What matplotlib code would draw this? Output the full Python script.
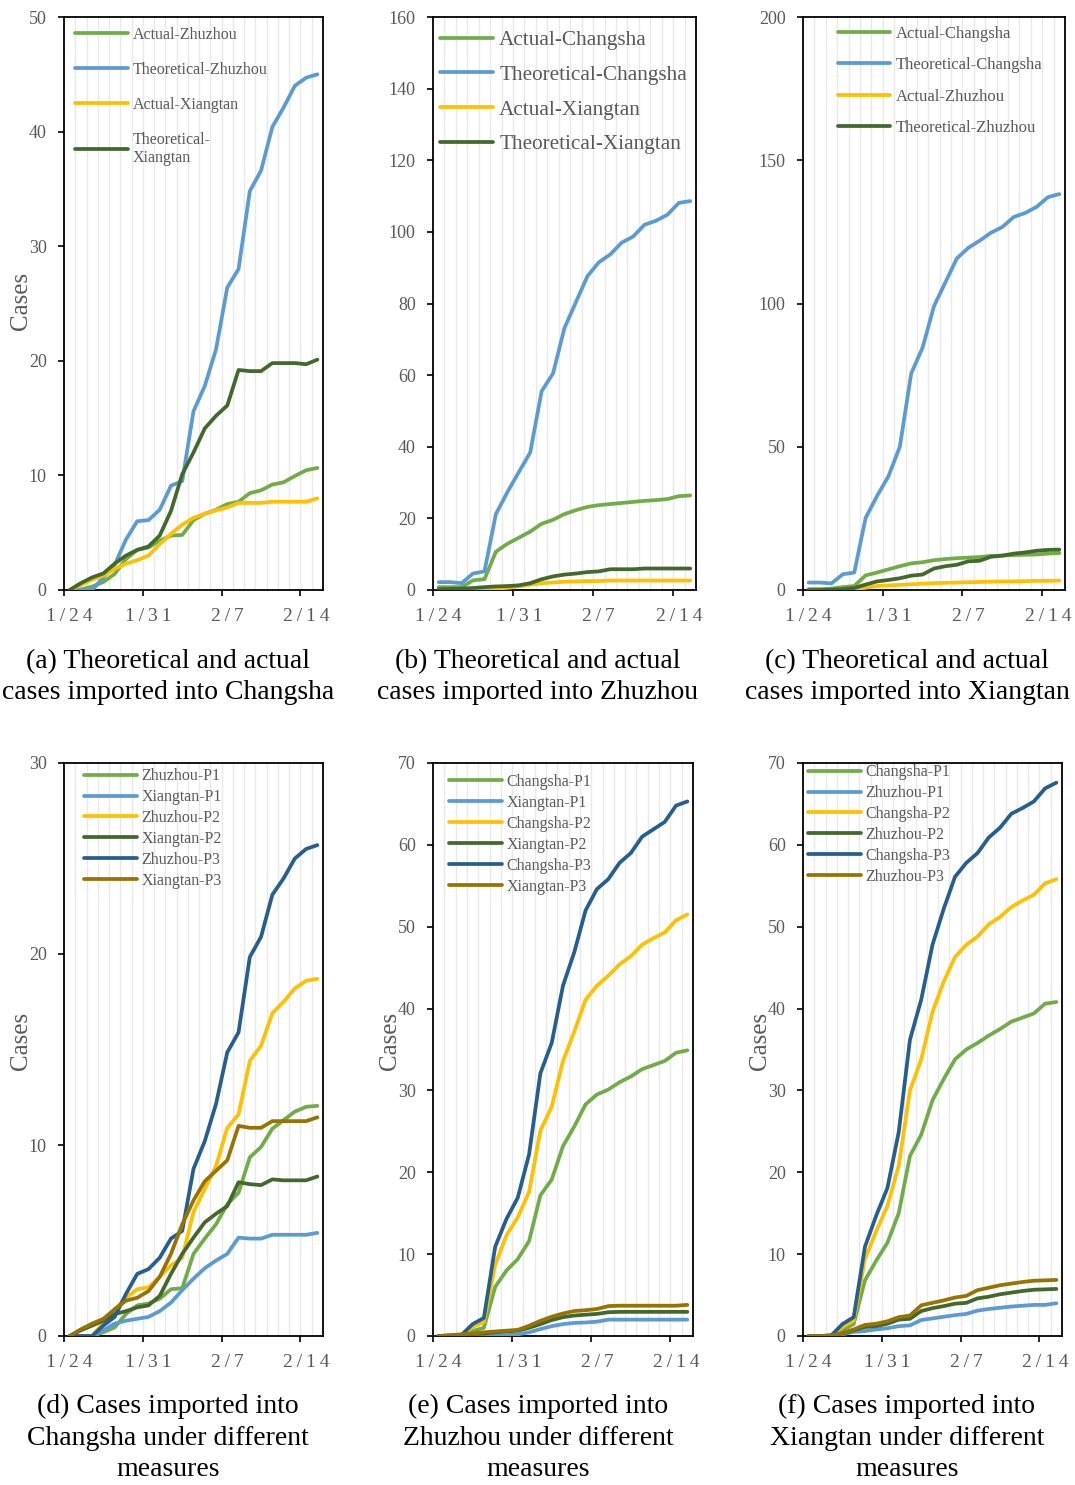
import numpy as np
import pandas as pd
import matplotlib
matplotlib.use('Agg')
import matplotlib.pyplot as plt

plt.rcParams['font.family'] = ['Liberation Serif', 'DejaVu Serif']

W, H = 1075, 1485

# 23 days, 1/24 .. 2/15
days = pd.date_range('2020-01-24', '2020-02-15')
day_labels = [f'{d.month}/{d.day}' for d in days]
tick_labels = ['1/24', '1/31', '2/7', '2/14']

GREEN = '#70AD47'
BLUE = '#5B9BD5'
YELLOW = '#FFC000'
DKGREEN = '#43682B'
DKBLUE = '#255E91'
OLIVE = '#997300'
GREY = '#595959'

# (a) imported into Changsha
a_actual_zz = [0, 0.05, 0.3, 0.7, 1.4, 2.7, 3.5, 3.7, 4.3, 4.75, 4.8, 6.1, 6.65, 7.0, 7.5, 7.7, 8.45, 8.7, 9.2, 9.4, 9.95, 10.45, 10.65]
a_theo_zz = [0, 0, 0, 1.1, 2.2, 4.4, 6.0, 6.1, 7.0, 9.1, 9.5, 15.6, 17.8, 21.0, 26.4, 28.0, 34.8, 36.6, 40.4, 42.1, 44.0, 44.7, 45.0]
a_actual_xt = [0, 0.45, 0.9, 1.25, 1.85, 2.3, 2.6, 3.0, 4.0, 4.9, 5.7, 6.3, 6.65, 6.95, 7.2, 7.6, 7.6, 7.6, 7.7, 7.7, 7.7, 7.7, 8.0]
a_theo_xt = [0, 0.6, 1.1, 1.45, 2.3, 3.0, 3.5, 3.8, 4.75, 6.9, 10.1, 12.0, 14.1, 15.2, 16.1, 19.2, 19.1, 19.1, 19.8, 19.8, 19.8, 19.7, 20.1]

# (b) imported into Zhuzhou
b_actual_cs = [0.8, 0.8, 0.8, 2.7, 3.0, 10.7, 12.9, 14.6, 16.3, 18.5, 19.6, 21.2, 22.3, 23.2, 23.7, 24.0, 24.3, 24.6, 24.9, 25.1, 25.4, 26.2, 26.4]
b_theo_cs = [2.2, 2.2, 1.9, 4.6, 5.2, 21.2, 27.3, 32.9, 38.4, 55.5, 60.5, 73.2, 80.4, 87.6, 91.5, 93.7, 97.0, 98.7, 102.0, 103.1, 104.8, 108.1, 108.6]
b_actual_xt = [0, 0, 0, 0.1, 0.2, 0.4, 0.6, 1.0, 1.5, 1.9, 2.1, 2.3, 2.4, 2.5, 2.5, 2.65, 2.65, 2.65, 2.65, 2.65, 2.65, 2.65, 2.65]
b_theo_xt = [0.2, 0.3, 0.4, 0.55, 0.8, 1.0, 1.1, 1.3, 1.9, 3.0, 3.8, 4.3, 4.6, 5.0, 5.2, 5.8, 5.8, 5.8, 6.0, 6.0, 6.0, 6.0, 6.0]

# (c) imported into Xiangtan
c_actual_cs = [0.3, 0.3, 0.5, 1.0, 1.4, 5.1, 6.1, 7.2, 8.3, 9.3, 9.7, 10.4, 10.8, 11.1, 11.3, 11.5, 11.9, 12.0, 12.2, 12.3, 12.4, 12.7, 12.9]
c_theo_cs = [2.6, 2.6, 2.3, 5.5, 6.1, 25.2, 32.8, 39.7, 50.0, 75.6, 84.6, 99.1, 107.4, 115.7, 119.4, 121.9, 124.7, 126.7, 130.2, 131.6, 133.7, 137.1, 138.2]
c_actual_zz = [0, 0, 0, 0, 0.2, 0.8, 1.4, 1.6, 1.8, 2.0, 2.2, 2.4, 2.5, 2.6, 2.7, 2.8, 2.9, 3.0, 3.0, 3.1, 3.2, 3.2, 3.3]
c_theo_zz = [0, 0, 0.1, 0.3, 0.7, 1.9, 3.0, 3.5, 4.1, 5.0, 5.4, 7.5, 8.3, 8.8, 10.0, 10.2, 11.6, 12.0, 12.7, 13.1, 13.7, 14.0, 14.1]

# (d) Changsha under different measures
d_zz_p1 = [0, 0, 0, 0.2, 0.45, 1.15, 1.6, 1.7, 1.95, 2.45, 2.5, 4.3, 5.1, 5.85, 6.9, 7.5, 9.35, 9.9, 10.85, 11.3, 11.75, 12.0, 12.05]
d_xt_p1 = [0, 0, 0, 0.3, 0.65, 0.8, 0.9, 1.0, 1.3, 1.75, 2.4, 3.0, 3.55, 3.95, 4.3, 5.15, 5.1, 5.1, 5.3, 5.3, 5.3, 5.3, 5.4]
d_zz_p2 = [0, 0, 0, 0.7, 1.4, 2.0, 2.45, 2.55, 3.1, 3.7, 4.1, 6.5, 7.7, 8.9, 10.9, 11.6, 14.4, 15.2, 16.9, 17.5, 18.2, 18.6, 18.7]
d_xt_p2 = [0, 0.3, 0.55, 0.8, 1.15, 1.3, 1.5, 1.6, 2.1, 3.25, 4.3, 5.15, 5.95, 6.4, 6.8, 8.05, 7.95, 7.9, 8.2, 8.15, 8.15, 8.15, 8.35]
d_zz_p3 = [0, 0, 0, 0.55, 1.0, 2.2, 3.25, 3.5, 4.1, 5.1, 5.5, 8.75, 10.2, 12.15, 14.85, 15.9, 19.84, 20.9, 23.1, 23.96, 25.0, 25.5, 25.7]
d_xt_p3 = [0, 0.35, 0.65, 0.9, 1.4, 1.85, 2.0, 2.35, 3.1, 4.3, 5.85, 7.1, 8.1, 8.65, 9.2, 11.0, 10.9, 10.9, 11.25, 11.25, 11.25, 11.25, 11.45]

# (e) Zhuzhou under different measures
e_cs_p1 = [0, 0, 0.1, 0.6, 1.0, 6.0, 8.0, 9.4, 11.6, 17.2, 19.1, 23.2, 25.6, 28.3, 29.5, 30.1, 31.0, 31.7, 32.6, 33.1, 33.6, 34.6, 34.9]
e_xt_p1 = [0, 0.05, 0.05, 0.05, 0.05, 0.05, 0.1, 0.2, 0.45, 0.85, 1.2, 1.45, 1.6, 1.65, 1.75, 2.0, 2.0, 2.0, 2.0, 2.0, 2.0, 2.0, 2.0]
e_cs_p2 = [0, 0, 0.1, 1.1, 1.7, 8.7, 12.3, 14.5, 17.6, 25.1, 28.0, 33.6, 37.2, 41.1, 42.8, 44.0, 45.4, 46.4, 47.8, 48.6, 49.3, 50.8, 51.5]
e_xt_p2 = [0, 0.05, 0.1, 0.25, 0.3, 0.45, 0.55, 0.65, 1.0, 1.45, 1.95, 2.3, 2.5, 2.6, 2.7, 2.9, 2.95, 2.95, 2.95, 2.95, 2.95, 2.95, 2.95]
e_cs_p3 = [0, 0, 0.1, 1.45, 2.2, 10.9, 14.3, 16.9, 22.2, 32.1, 35.8, 42.8, 46.9, 52.0, 54.6, 55.8, 57.8, 59.0, 61.0, 61.9, 62.8, 64.8, 65.3]
e_xt_p3 = [0, 0.1, 0.2, 0.3, 0.45, 0.55, 0.65, 0.75, 1.25, 1.85, 2.35, 2.75, 3.05, 3.15, 3.3, 3.65, 3.7, 3.7, 3.7, 3.7, 3.7, 3.7, 3.8]

# (f) Xiangtan under different measures
f_cs_p1 = [0, 0, 0.05, 0.7, 1.45, 6.8, 9.2, 11.4, 15.0, 22.0, 24.6, 28.8, 31.4, 33.8, 35.0, 35.8, 36.7, 37.5, 38.4, 38.9, 39.4, 40.6, 40.8]
f_zz_p1 = [0, 0, 0.02, 0.2, 0.5, 0.6, 0.8, 0.95, 1.2, 1.3, 1.95, 2.15, 2.35, 2.55, 2.7, 3.1, 3.3, 3.45, 3.6, 3.7, 3.8, 3.8, 4.0]
f_cs_p2 = [0, 0, 0.05, 1.1, 1.9, 9.4, 12.8, 15.9, 20.8, 30.0, 33.8, 39.6, 43.3, 46.3, 47.8, 48.8, 50.3, 51.2, 52.4, 53.2, 53.9, 55.3, 55.8]
f_zz_p2 = [0, 0, 0.05, 0.3, 0.7, 1.1, 1.2, 1.5, 2.0, 2.1, 3.05, 3.4, 3.65, 3.95, 4.05, 4.6, 4.8, 5.1, 5.3, 5.5, 5.65, 5.7, 5.75]
f_cs_p3 = [0, 0, 0.05, 1.45, 2.3, 10.9, 14.7, 18.1, 24.9, 36.2, 41.1, 47.8, 52.2, 56.1, 57.8, 59.0, 60.9, 62.1, 63.8, 64.5, 65.3, 66.9, 67.6]
f_zz_p3 = [0, 0, 0.05, 0.35, 0.8, 1.35, 1.5, 1.8, 2.3, 2.5, 3.75, 4.05, 4.35, 4.7, 4.9, 5.6, 5.9, 6.2, 6.4, 6.6, 6.75, 6.8, 6.85]

captions = [
    '(a) Theoretical and actual\ncases imported into Changsha',
    '(b) Theoretical and actual\ncases imported into Zhuzhou',
    '(c) Theoretical and actual\ncases imported into Xiangtan',
    '(d) Cases imported into\nChangsha under different\nmeasures',
    '(e) Cases imported into\nZhuzhou under different\nmeasures',
    '(f) Cases imported into\nXiangtan under different\nmeasures',
]


def px_rect(l, t, r, b):
    return [l / W, 1 - b / H, (r - l) / W, (b - t) / H]


def spaced(s):
    # the source renders dates with wide letter spacing
    return '\u2009'.join(s)


def draw_panel(ax, series, labels, colors, ymax, ystep, leg):
    x = np.arange(len(day_labels))
    for xb in np.arange(0.5, len(x) - 1, 1):
        ax.axvline(xb, color='#E9E9E9', lw=1.0, zorder=0)
    for ys, lab, col in zip(series, labels, colors):
        ax.plot(x, ys, color=col, lw=2.7, label=lab, solid_capstyle='round',
                solid_joinstyle='round', zorder=3)
    ax.set_xlim(-0.5, len(x) - 0.5)
    ax.set_ylim(0, ymax)
    ax.set_yticks(np.arange(0, ymax + 1, ystep))
    ax.set_xticks([day_labels.index(t) for t in tick_labels], [spaced(t) for t in tick_labels])
    ax.set_xticks(np.arange(-0.5, len(x) - 1, 7), minor=True)
    ax.tick_params(axis='x', which='major', length=0, pad=13, labelsize=14, labelcolor=GREY)
    ax.tick_params(axis='x', which='minor', length=4.5, width=1.2, direction='out')
    ax.tick_params(axis='y', length=4.5, width=1.2, pad=8, labelsize=13, labelcolor=GREY)
    for sp in ax.spines.values():
        sp.set_linewidth(1.3)
        sp.set_color('black')
    ax.legend(loc='upper left', bbox_to_anchor=(leg['x'], leg['y']), frameon=False,
              borderpad=0, borderaxespad=0, fontsize=leg['size'],
              handlelength=leg['hl'], handletextpad=leg['tp'],
              labelspacing=leg['ls'], labelcolor=GREY)


fig = plt.figure(figsize=(W / 100, H / 100), dpi=100)

rects = [(64, 17, 323, 590), (433, 17, 696, 590), (803, 17, 1065, 590),
         (64, 763, 323, 1336), (433, 763, 693, 1336), (803, 763, 1062, 1336)]
axs = [fig.add_axes(px_rect(*r)) for r in rects]

draw_panel(axs[0], [a_actual_zz, a_theo_zz, a_actual_xt, a_theo_xt],
           ['Actual-Zhuzhou', 'Theoretical-Zhuzhou', 'Actual-Xiangtan', 'Theoretical-\nXiangtan'],
           [GREEN, BLUE, YELLOW, DKGREEN], 50, 10,
           dict(x=0.042, y=0.983, size=11.5, hl=3.3, tp=0.3, ls=1.19))
draw_panel(axs[1], [b_actual_cs, b_theo_cs, b_actual_xt, b_theo_xt],
           ['Actual-Changsha', 'Theoretical-Changsha', 'Actual-Xiangtan', 'Theoretical-Xiangtan'],
           [GREEN, BLUE, YELLOW, DKGREEN], 160, 20,
           dict(x=0.027, y=0.977, size=15.3, hl=2.5, tp=0.28, ls=0.70))
draw_panel(axs[2], [c_actual_cs, c_theo_cs, c_actual_zz, c_theo_zz],
           ['Actual-Changsha', 'Theoretical-Changsha', 'Actual-Zhuzhou', 'Theoretical-Zhuzhou'],
           [GREEN, BLUE, YELLOW, DKGREEN], 200, 50,
           dict(x=0.134, y=0.985, size=12, hl=3.1, tp=0.35, ls=0.93))
draw_panel(axs[3], [d_zz_p1, d_xt_p1, d_zz_p2, d_xt_p2, d_zz_p3, d_xt_p3],
           ['Zhuzhou-P1', 'Xiangtan-P1', 'Zhuzhou-P2', 'Xiangtan-P2', 'Zhuzhou-P3', 'Xiangtan-P3'],
           [GREEN, BLUE, YELLOW, DKGREEN, DKBLUE, OLIVE], 30, 10,
           dict(x=0.077, y=0.991, size=11.5, hl=3.3, tp=0.3, ls=0.31))
draw_panel(axs[4], [e_cs_p1, e_xt_p1, e_cs_p2, e_xt_p2, e_cs_p3, e_xt_p3],
           ['Changsha-P1', 'Xiangtan-P1', 'Changsha-P2', 'Xiangtan-P2', 'Changsha-P3', 'Xiangtan-P3'],
           [GREEN, BLUE, YELLOW, DKGREEN, DKBLUE, OLIVE], 70, 10,
           dict(x=0.062, y=0.981, size=11.5, hl=3.3, tp=0.3, ls=0.31))
draw_panel(axs[5], [f_cs_p1, f_zz_p1, f_cs_p2, f_zz_p2, f_cs_p3, f_zz_p3],
           ['Changsha-P1', 'Zhuzhou-P1', 'Changsha-P2', 'Zhuzhou-P2', 'Changsha-P3', 'Zhuzhou-P3'],
           [GREEN, BLUE, YELLOW, DKGREEN, DKBLUE, OLIVE], 70, 10,
           dict(x=0.019, y=0.998, size=11.5, hl=3.3, tp=0.3, ls=0.31))

# y labels (only a, d, e, f carry one)
for i, ly in zip([0, 3, 4, 5], [0.505, 0.515, 0.515, 0.515]):
    ax = axs[i]
    ax.set_ylabel('Cases', fontsize=18, color=GREY)
    ax.yaxis.set_label_coords(-0.122, ly)

# captions under each panel
cap_x = [168, 538, 907]
for i, txt in enumerate(captions):
    cx = cap_x[i % 3]
    cy = 677 if i < 3 else 1438
    fig.text(cx / W, 1 - cy / H, txt, ha='center', va='center', fontsize=20,
             linespacing=1.32, color='black')

fig.savefig('out.png', dpi=100)
